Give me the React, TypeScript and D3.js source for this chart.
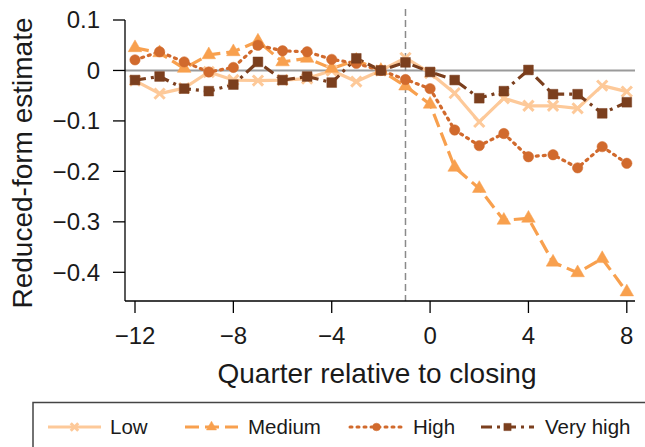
import * as d3 from "d3";
import React from "react";

// quarters relative to closing
const quarters = [-12, -11, -10, -9, -8, -7, -6, -5, -4, -3, -2, -1, 0, 1, 2, 3, 4, 5, 6, 7, 8];

// reduced-form estimates
const lowVals = [-0.02, -0.046, -0.035, -0.003, -0.019, -0.02, -0.019, -0.016, 0.0, -0.022, 0, 0.025, -0.005, -0.045, -0.102, -0.055, -0.07, -0.07, -0.075, -0.03, -0.042];
const mediumVals = [0.045, 0.035, 0.004, 0.031, 0.037, 0.058, 0.017, 0.024, 0.004, 0.02, 0, -0.031, -0.067, -0.192, -0.234, -0.297, -0.293, -0.38, -0.401, -0.373, -0.439];
const highVals = [0.021, 0.037, 0.017, -0.003, 0.006, 0.05, 0.039, 0.037, 0.022, 0.014, 0, -0.018, -0.036, -0.118, -0.149, -0.125, -0.171, -0.167, -0.193, -0.151, -0.184];
const veryHighVals = [-0.019, -0.012, -0.036, -0.041, -0.028, 0.017, -0.019, -0.012, -0.024, 0.024, 0, 0.016, -0.003, -0.019, -0.055, -0.041, 0.001, -0.047, -0.047, -0.085, -0.063];

const xTicks = [-12, -8, -4, 0, 4, 8];
const yTicks = [0.1, 0, -0.1, -0.2, -0.3, -0.4];

const seriesNames = ["Low", "Medium", "High", "Very high"];

const W = 645;
const H = 447;
const FONT = "'Liberation Sans', Arial, Helvetica, sans-serif";

const styles = [
  { color: "#fdc999", dash: "", symbol: d3.symbolX, fill: false, size: 70 },
  { color: "#f8a04e", dash: "14,6", symbol: d3.symbolTriangle, fill: true, size: 80 },
  { color: "#d16a2d", dash: "2,5", symbol: d3.symbolCircle, fill: true, size: 85 },
  { color: "#7b3f1e", dash: "11,5,3,5", symbol: d3.symbolSquare, fill: true, size: 95 },
];

const fmt = (v: number) => {
  if (v === 0) return "0";
  const s = d3.format(".1f")(Math.abs(v));
  return v < 0 ? "\u2212" + s : s;
};

function Marker({ x, y, i, scale = 1 }: { x: number; y: number; i: number; scale?: number }) {
  const st = styles[i];
  const path = d3.symbol().type(st.symbol).size(st.size * scale)();
  return (
    <path
      d={path || ""}
      transform={`translate(${x},${y})`}
      fill={st.fill ? st.color : "none"}
      stroke={st.color}
      strokeWidth={st.fill ? 0.5 : 3}
    />
  );
}

export default function App() {
  const x = d3.scaleLinear().domain([-12, 8]).range([135, 626.8]);
  const y = d3.scaleLinear().domain([-0.4, 0.1]).range([272.3, 20]);
  const left = 125;
  const right = 635;
  const bottom = 301;

  const allVals = [lowVals, mediumVals, highVals, veryHighVals];
  const line = d3
    .line<number>()
    .x((_, k) => x(quarters[k]))
    .y((d) => y(d));

  const legendX = [48, 185, 350, 481];
  const legendTextX = [110, 248, 413, 545];
  const legendY = 427;

  return (
    <svg
      width={W}
      height={H}
      style={{ position: "absolute", left: 0, top: 0, background: "#fff" }}
      fontFamily={FONT}
    >
      {/* zero line and closing marker */}
      <line x1={left} x2={right} y1={y(0)} y2={y(0)} stroke="#9a9a9a" strokeWidth={2} />
      <line x1={x(-1)} x2={x(-1)} y1={9} y2={bottom} stroke="#8a8a8a" strokeWidth={1.5} strokeDasharray="7,4" />

      {allVals.map((vals, i) => (
        <path
          key={"l" + i}
          d={line(vals) || ""}
          fill="none"
          stroke={styles[i].color}
          strokeWidth={3.2}
          strokeDasharray={styles[i].dash}
          strokeLinecap={i === 2 ? "round" : "butt"}
          strokeLinejoin="round"
        />
      ))}
      {allVals.map((vals, i) =>
        vals.map((v, k) => <Marker key={`m${i}-${k}`} x={x(quarters[k])} y={y(v)} i={i} />)
      )}

      {/* axes */}
      <line x1={left} x2={left} y1={y(0.1)} y2={bottom} stroke="#000" strokeWidth={1.3} />
      <line x1={left} x2={right} y1={bottom} y2={bottom} stroke="#000" strokeWidth={1.3} />
      {yTicks.map((t) => (
        <g key={"y" + t}>
          <line x1={left - 12} x2={left} y1={y(t)} y2={y(t)} stroke="#000" strokeWidth={1.3} />
          <text x={100} y={y(t)} dy="0.35em" textAnchor="end" fontSize={24} fill="#1a1a1a">
            {fmt(t)}
          </text>
        </g>
      ))}
      {xTicks.map((t) => (
        <g key={"x" + t}>
          <line x1={x(t)} x2={x(t)} y1={bottom} y2={bottom + 12} stroke="#000" strokeWidth={1.3} />
          <text x={x(t)} y={343.5} textAnchor="middle" fontSize={24} fill="#1a1a1a">
            {t < 0 ? "\u2212" + Math.abs(t) : String(t)}
          </text>
        </g>
      ))}
      <text x={377} y={382.5} textAnchor="middle" fontSize={28} fill="#1a1a1a">
        Quarter relative to closing
      </text>
      <text
        transform="translate(22,163) rotate(-90)"
        dy="0.35em"
        textAnchor="middle"
        fontSize={28}
        fill="#1a1a1a"
      >
        Reduced-form estimate
      </text>

      {/* legend */}
      <rect x={33} y={402.5} width={630} height={60} fill="none" stroke="#444" strokeWidth={1.5} />
      {seriesNames.map((name, i) => (
        <g key={"lg" + i}>
          <line
            x1={legendX[i]}
            x2={legendX[i] + 53}
            y1={legendY}
            y2={legendY}
            stroke={styles[i].color}
            strokeWidth={3}
            strokeDasharray={styles[i].dash}
            strokeLinecap={i === 2 ? "round" : "butt"}
          />
          <Marker x={legendX[i] + 26.5} y={legendY} i={i} scale={0.55} />
          <text x={legendTextX[i]} y={legendY} dy="0.35em" fontSize={20.5} fill="#1a1a1a">
            {name}
          </text>
        </g>
      ))}
    </svg>
  );
}
